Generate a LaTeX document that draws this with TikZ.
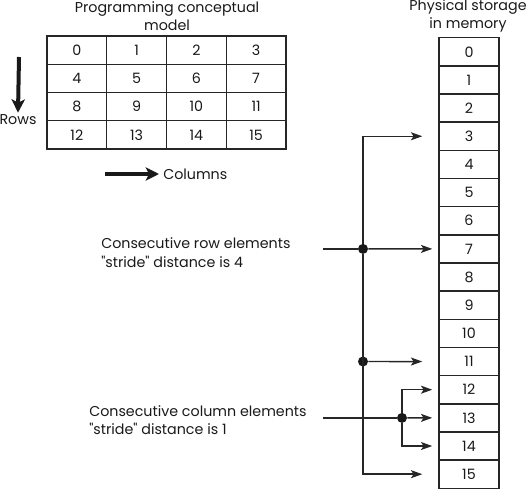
\documentclass[tikz,border=0pt]{standalone}
\usepackage{fontspec}
\setmainfont{Poppins}
\usetikzlibrary{arrows.meta}

\begin{document}
\begin{tikzpicture}[
			x=0.75pt, y=-0.75pt,
			font=\fontsize{10.7}{13.8}\selectfont,
			every node/.style={text=black!90},
			tcell/.style={draw=black!85, line width=1.1pt, minimum width=44.8pt, minimum height=21.2pt, inner sep=0pt},
			mcell/.style={draw=black!85, line width=1.1pt, minimum width=45pt, minimum height=21.1pt, inner sep=0pt},
			title/.style={align=center, inner sep=0pt},
			note/.style={align=left, anchor=west, inner sep=0pt},
			dot/.style={circle, fill=black!90, minimum size=7.5pt, inner sep=0pt},
			conn/.style={draw=black!85, line width=1.1pt},
			tip/.style={conn, -{Stealth[length=8.5pt, width=6pt, inset=2pt]}},
			bigarrow/.style={draw=black!90, line width=3pt, -{Stealth[length=10pt, width=10pt, inset=2.5pt]}}
			]
			\useasboundingbox (0,0) rectangle (529,489);
			% conceptual model
			\node[title] (ttl) at (167,16) {Programming conceptual\\model};
			\foreach \r in {0,...,3}
				\foreach \c in {0,...,3} {
					\pgfmathtruncatemacro{\n}{4*\r+\c}
					\node[tcell] (t\n) at ({47+59.75*(\c+0.5)},{36+28.25*(\r+0.5)}) {\n};
				}
			\coordinate (rtop) at (19,57);
			\node[inner sep=0pt] (rows) at (18,120) {Rows};
			\draw[bigarrow] (rtop) -- ([yshift=1.5pt]rows.north);
			\coordinate (cstart) at (105,174);
			\node[anchor=west, inner sep=0pt] (cols) at (163,174) {Columns};
			\draw[bigarrow] (cstart) -- ([xshift=-3pt]cols.west);
			% storage in memory
			\node[title] (mttl) at (468,16) {Physical storage\\in memory};
			\foreach \i in {0,...,15}
				\node[mcell] (m\i) at (469,{37.7+28.16*(\i+0.5)}) {\i};
			% row stride
			\node[note] (rowtxt) at (101,252.5) {Consecutive row elements\\\textquotedbl{}stride\textquotedbl{} distance is 4};
			\coordinate (rowin) at (323,248.9);
			\node[dot] (d7) at (363,248.9) {};
			\node[dot] (d11) at (363,361.5) {};
			\draw[conn] (rowin) -- (d7);
			\draw[tip, shorten >=4.5pt] (d7) -- (m7.west);
			\draw[tip, shorten >=12pt] (d7) |- (m3.west);
			\draw[tip, shorten >=12pt] (d11) -- (m11.west);
			\draw[tip, shorten >=12pt] (d7) |- (m15.west);
			% column stride
			\node[note] (coltxt) at (89,420) {Consecutive column elements\\\textquotedbl{}stride\textquotedbl{} distance is 1};
			\coordinate (colin) at (323,417.9);
			\node[dot] (d13) at (402,417.9) {};
			\draw[conn] (colin) -- (d13);
			\draw[tip, shorten >=4.5pt] (d13) -- (m13.west);
			\draw[tip, shorten >=4.5pt] (d13) |- (m12.west);
			\draw[tip, shorten >=4.5pt] (d13) |- (m14.west);
		\end{tikzpicture}
\end{document}
